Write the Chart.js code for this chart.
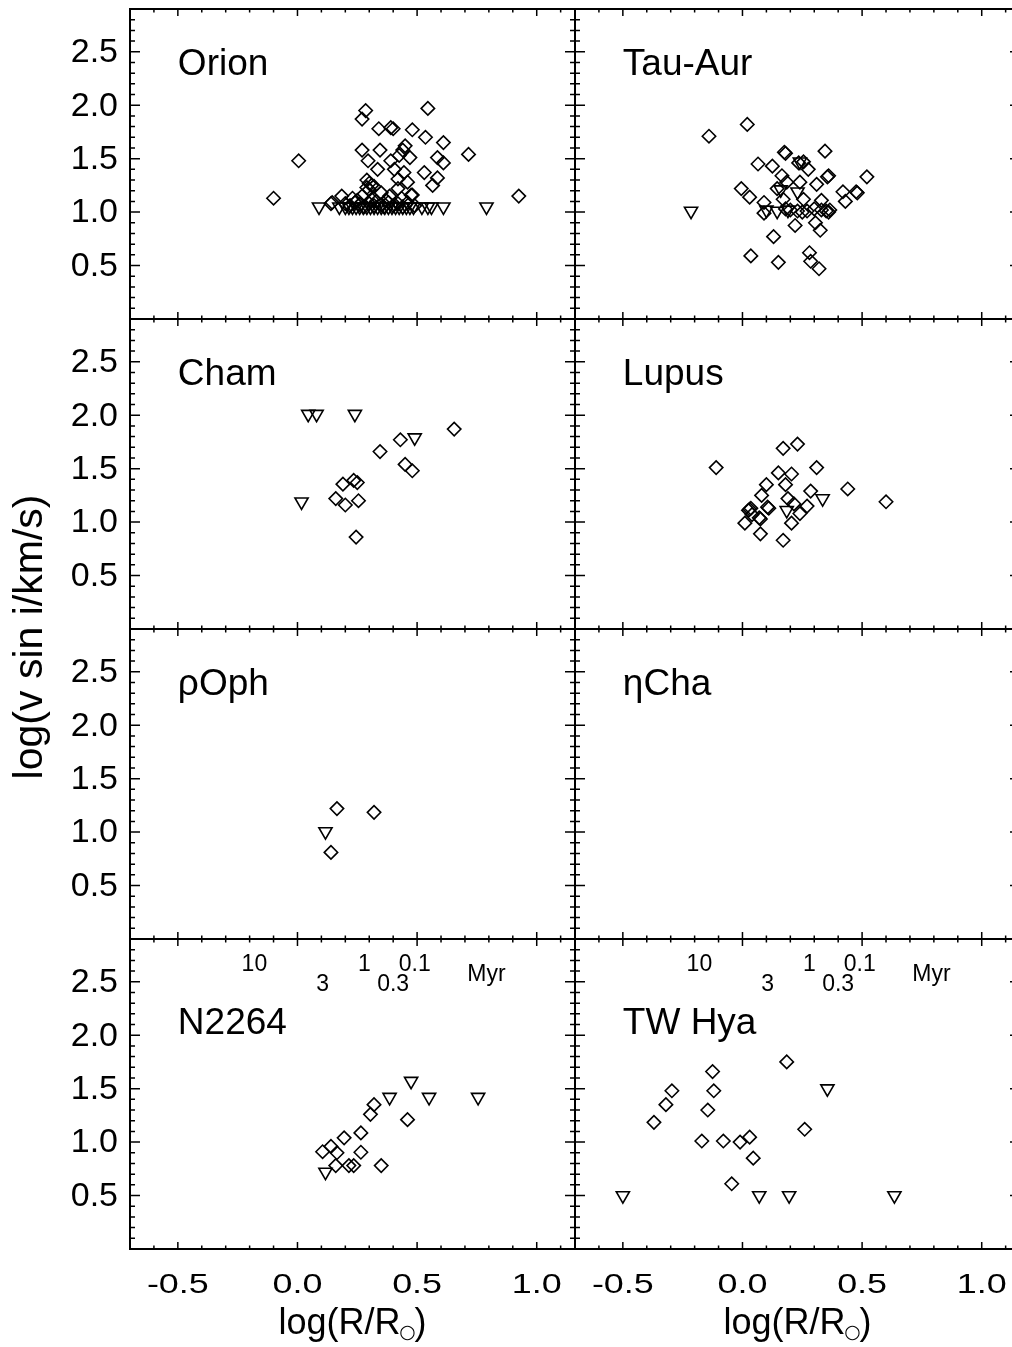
<!DOCTYPE html>
<html>
<head>
<meta charset="utf-8">
<script src="https://cdn.jsdelivr.net/npm/chart.js@4.4.0/dist/chart.umd.min.js"></script>
<style>
  html, body { margin: 0; padding: 0; background: #fff; overflow: hidden; }
  canvas { display: block; }
</style>
</head>
<body>
<canvas id="chart" width="1012" height="1347"></canvas>
<script>
// panel names, left to right, top to bottom
const panelNames = ['Orion', 'Tau-Aur', 'Cham', 'Lupus', 'ρOph', 'ηCha', 'N2264', 'TW Hya'];

// [log(R/Rsun), log(v sin i)] - diamonds are measured, triangles are upper limits
const orionDet = [
  [-0.10, 1.13], [0.005, 1.48], [0.285, 1.95], [0.27, 1.87], [0.34, 1.78], [0.39, 1.79],
  [0.40, 1.78], [0.545, 1.97], [0.48, 1.77], [0.535, 1.70], [0.61, 1.65], [0.715, 1.54],
  [0.925, 1.15], [0.27, 1.58], [0.345, 1.58], [0.45, 1.62], [0.44, 1.58], [0.39, 1.48],
  [0.425, 1.53], [0.47, 1.51], [0.295, 1.48], [0.585, 1.51], [0.61, 1.46], [0.335, 1.40],
  [0.405, 1.40], [0.53, 1.37], [0.445, 1.37], [0.42, 1.31], [0.46, 1.28], [0.585, 1.32],
  [0.565, 1.25], [0.29, 1.30], [0.30, 1.27], [0.31, 1.25], [0.29, 1.23], [0.32, 1.24],
  [0.42, 1.22], [0.48, 1.16], [0.185, 1.15], [0.145, 1.09], [0.14, 1.08], [0.23, 1.13],
  [0.27, 1.15], [0.30, 1.21], [0.35, 1.18], [0.385, 1.15], [0.435, 1.13], [0.475, 1.16],
  [0.20, 1.08], [0.22, 1.06], [0.24, 1.09], [0.26, 1.07], [0.28, 1.05], [0.30, 1.08],
  [0.32, 1.06], [0.33, 1.10], [0.35, 1.07], [0.36, 1.05], [0.38, 1.09], [0.40, 1.06],
  [0.42, 1.08], [0.44, 1.05], [0.46, 1.09], [0.49, 1.06], [0.25, 1.11], [0.31, 1.12], [0.37, 1.11]
];
const orionLim = [
  [0.09, 1.05], [0.175, 1.05], [0.20, 1.05], [0.215, 1.05], [0.23, 1.05], [0.245, 1.05],
  [0.26, 1.05], [0.275, 1.05], [0.29, 1.05], [0.305, 1.05], [0.32, 1.05], [0.335, 1.05],
  [0.35, 1.05], [0.365, 1.05], [0.38, 1.05], [0.395, 1.05], [0.41, 1.05], [0.425, 1.05],
  [0.44, 1.05], [0.455, 1.05], [0.47, 1.05], [0.485, 1.05], [0.52, 1.05], [0.545, 1.05],
  [0.56, 1.05], [0.61, 1.05], [0.79, 1.05]
];

const tauAurDet = [
  [-0.14, 1.71], [0.02, 1.82], [0.175, 1.56], [0.18, 1.55], [0.345, 1.57], [0.065, 1.45],
  [0.125, 1.43], [0.235, 1.46], [0.255, 1.47], [0.275, 1.40], [0.165, 1.34], [0.355, 1.33],
  [0.36, 1.34], [0.52, 1.33], [0.185, 1.28], [0.24, 1.28], [0.31, 1.26], [-0.005, 1.22],
  [0.145, 1.22], [0.03, 1.14], [0.42, 1.19], [0.475, 1.19], [0.48, 1.18], [0.43, 1.10],
  [0.09, 1.09], [0.33, 1.11], [0.09, 0.99], [0.17, 1.12], [0.255, 1.12], [0.18, 1.03],
  [0.20, 1.02], [0.23, 1.01], [0.25, 1.00], [0.27, 1.01], [0.30, 1.03], [0.33, 1.02],
  [0.35, 1.01], [0.36, 1.00], [0.365, 1.02], [0.22, 0.875], [0.305, 0.90], [0.325, 0.83],
  [0.13, 0.77], [0.035, 0.59], [0.15, 0.53], [0.28, 0.62], [0.285, 0.54], [0.32, 0.47]
];
const tauAurLim = [
  [-0.215, 1.01], [0.24, 1.47], [0.16, 1.21], [0.23, 1.19], [0.10, 1.02], [0.145, 1.01], [0.19, 1.02]
];

const chamDet = [
  [0.655, 1.87], [0.43, 1.77], [0.345, 1.66], [0.45, 1.54], [0.48, 1.48], [0.19, 1.355],
  [0.235, 1.39], [0.25, 1.37], [0.16, 1.22], [0.20, 1.16], [0.255, 1.20], [0.245, 0.86]
];
const chamLim = [
  [0.045, 2.01], [0.08, 2.01], [0.24, 2.01], [0.49, 1.79], [0.017, 1.19]
];

const lupusDet = [
  [-0.11, 1.51], [0.17, 1.69], [0.23, 1.73], [0.15, 1.46], [0.205, 1.45], [0.31, 1.51],
  [0.10, 1.35], [0.18, 1.35], [0.285, 1.29], [0.44, 1.31], [0.08, 1.25], [0.19, 1.22],
  [0.60, 1.19], [0.03, 1.12], [0.035, 1.13], [0.025, 1.11], [0.105, 1.14], [0.11, 1.13],
  [0.215, 1.17], [0.24, 1.08], [0.27, 1.15], [0.205, 0.99], [0.075, 1.03], [0.07, 1.04],
  [0.01, 0.99], [0.04, 1.07], [0.075, 0.89], [0.17, 0.83]
];
const lupusLim = [[0.335, 1.22], [0.185, 1.11]];

const rhoOphDet = [[0.165, 1.22], [0.32, 1.185], [0.14, 0.81]];
const rhoOphLim = [[0.117, 1.005]];

const etaChaDet = [];
const etaChaLim = [];

const n2264Det = [
  [0.32, 1.35], [0.305, 1.26], [0.46, 1.21], [0.265, 1.086], [0.195, 1.04], [0.105, 0.91],
  [0.14, 0.96], [0.165, 0.90], [0.265, 0.905], [0.16, 0.78], [0.215, 0.78], [0.235, 0.78], [0.35, 0.78]
];
const n2264Lim = [[0.475, 1.57], [0.385, 1.42], [0.55, 1.42], [0.755, 1.42], [0.117, 0.72]];

const twHyaDet = [
  [0.185, 1.75], [-0.125, 1.66], [-0.12, 1.48], [-0.295, 1.48], [-0.32, 1.35], [-0.145, 1.30],
  [-0.37, 1.185], [0.26, 1.12], [-0.17, 1.01], [-0.08, 1.01], [-0.01, 1.00], [0.03, 1.046],
  [0.045, 0.85], [-0.045, 0.61]
];
const twHyaLim = [[-0.5, 0.5], [0.07, 0.5], [0.195, 0.5], [0.635, 0.5], [0.355, 1.50]];

const xTicks = [-0.5, 0.0, 0.5, 1.0];
const yTicks = [0.5, 1.0, 1.5, 2.0, 2.5];

// age marks printed in the bottom row
const ageLabels = ['10', '3', '1', '0.3', '0.1', 'Myr'];
const ageX = [-0.18, 0.105, 0.28, 0.40, 0.49, 0.79];
const ageY = [2.60, 2.41, 2.60, 2.41, 2.60, 2.51];

const detSets = [orionDet, tauAurDet, chamDet, lupusDet, rhoOphDet, etaChaDet, n2264Det, twHyaDet];
const limSets = [orionLim, tauAurLim, chamLim, lupusLim, rhoOphLim, etaChaLim, n2264Lim, twHyaLim];

const FONT = '"Liberation Sans", Arial, Helvetica, sans-serif';
const X_MIN = -0.7, X_MAX = 1.16;

// build the datasets, each panel gets its own pair of axes
const datasets = [];
panelNames.forEach((name, i) => {
  const col = i % 2;
  const row = Math.floor(i / 2);
  datasets.push({
    label: name + ' detections',
    data: detSets[i].map(p => ({ x: p[0], y: p[1] })),
    xAxisID: 'x' + col,
    yAxisID: 'y' + row,
    pointStyle: 'rectRot',
    pointRadius: 6.7,
    borderColor: '#000',
    backgroundColor: 'rgba(0,0,0,0)',
    borderWidth: 1.6
  });
  datasets.push({
    label: name + ' upper limits',
    data: limSets[i].map(p => ({ x: p[0], y: p[1] })),
    xAxisID: 'x' + col,
    yAxisID: 'y' + row,
    pointStyle: 'triangle',
    rotation: 180,
    pointRadius: 7.6,
    borderColor: '#000',
    backgroundColor: 'rgba(0,0,0,0)',
    borderWidth: 1.6
  });
});

// two x axes side by side, four y axes stacked.
// the right column runs past the page edge, so it only gets 437 of its 445 px
const scales = {
  x0: { type: 'linear', axis: 'x', position: 'bottom', stack: 'cols', stackWeight: 445, weight: 1,
    min: X_MIN, max: X_MAX, display: false },
  x1: { type: 'linear', axis: 'x', position: 'bottom', stack: 'cols', stackWeight: 437, weight: 2,
    min: X_MIN, max: X_MIN + (X_MAX - X_MIN) * 437 / 445, display: false }
};
for (let r = 0; r < 4; r++) {
  scales['y' + r] = { type: 'linear', axis: 'y', position: 'left', stack: 'rows', stackWeight: 1,
    weight: 4 - r, min: 0, max: 2.9, display: false };
}

// frames, inward ticks and all the labels (IDL style)
const framePlugin = {
  id: 'frames',
  afterDraw(chart) {
    const ctx = chart.ctx;
    ctx.save();
    ctx.strokeStyle = '#000';
    ctx.fillStyle = '#000';
    for (let i = 0; i < 8; i++) {
      const col = i % 2, row = Math.floor(i / 2);
      const xs = chart.scales['x' + col];
      const ys = chart.scales['y' + row];
      const L = xs.left, R = xs.getPixelForValue(X_MAX), T = ys.top, B = ys.bottom;

      ctx.lineWidth = 2;
      ctx.strokeRect(L, T, R - L, B - T);

      ctx.lineWidth = 1.5;
      ctx.beginPath();
      for (let k = -6; k <= 11; k++) {
        const px = xs.getPixelForValue(k / 10);
        const len = (k % 5 === 0) ? 7 : 3.5;
        ctx.moveTo(px, B); ctx.lineTo(px, B - len);
        ctx.moveTo(px, T); ctx.lineTo(px, T + len);
      }
      for (let k = 1; k <= 28; k++) {
        const py = ys.getPixelForValue(k / 10);
        const len = (k % 5 === 0) ? 10 : 5;
        ctx.moveTo(L, py); ctx.lineTo(L + len, py);
        ctx.moveTo(R, py); ctx.lineTo(R - len, py);
      }
      ctx.stroke();

      // panel name
      ctx.font = '37px ' + FONT;
      ctx.textAlign = 'left';
      ctx.textBaseline = 'alphabetic';
      ctx.fillText(panelNames[i], xs.getPixelForValue(-0.5), ys.getPixelForValue(row === 3 ? 2.01 : 2.28));

      // y tick labels on the left column
      if (col === 0) {
        ctx.font = '34px ' + FONT;
        ctx.textAlign = 'right';
        ctx.textBaseline = 'middle';
        yTicks.forEach(v => ctx.fillText(v.toFixed(1), L - 12, ys.getPixelForValue(v) + 1));
      }

      if (row === 3) {
        // age marks
        ctx.font = '23px ' + FONT;
        ctx.textAlign = 'center';
        ctx.textBaseline = 'alphabetic';
        ageLabels.forEach((t, k) => ctx.fillText(t, xs.getPixelForValue(ageX[k]), ys.getPixelForValue(ageY[k])));

        // x tick labels, wide like the original
        ctx.font = '27px ' + FONT;
        xTicks.forEach(v => {
          ctx.save();
          ctx.translate(xs.getPixelForValue(v), B + 44);
          ctx.scale(1.33, 1);
          ctx.fillText(v.toFixed(1), 0, 0);
          ctx.restore();
        });

        // x title log(R/Rsun), centred on the full 445 px column
        const main = 'log(R/R';
        ctx.font = '36px ' + FONT;
        const w1 = ctx.measureText(main).width;
        const w2 = ctx.measureText(')').width;
        const sunW = 14;
        const cx = (L + R) / 2;
        const x0 = cx - (w1 + sunW + w2) / 2;
        const base = B + 85;
        ctx.textAlign = 'left';
        ctx.fillText(main, x0, base);
        ctx.fillText(')', x0 + w1 + sunW, base);
        ctx.font = '19px "DejaVu Sans", sans-serif';
        ctx.textAlign = 'center';
        ctx.textBaseline = 'middle';
        ctx.fillText('○', x0 + w1 + sunW / 2, base - 1);
      }
    }

    // y title
    ctx.font = '41px ' + FONT;
    ctx.textAlign = 'center';
    ctx.textBaseline = 'alphabetic';
    ctx.translate(42, 637);
    ctx.rotate(-Math.PI / 2);
    ctx.fillText('log(v sin i/km/s)', 0, 0);
    ctx.restore();
  }
};

const chart = new Chart(document.getElementById('chart').getContext('2d'), {
  type: 'scatter',
  data: { datasets: datasets },
  options: {
    responsive: false,
    maintainAspectRatio: false,
    animation: false,
    events: [],
    layout: { autoPadding: false, padding: { left: 130, top: 9, right: 0, bottom: 98 } },
    scales: scales,
    plugins: { legend: { display: false }, tooltip: { enabled: false } }
  },
  plugins: [framePlugin]
});
</script>
</body>
</html>
